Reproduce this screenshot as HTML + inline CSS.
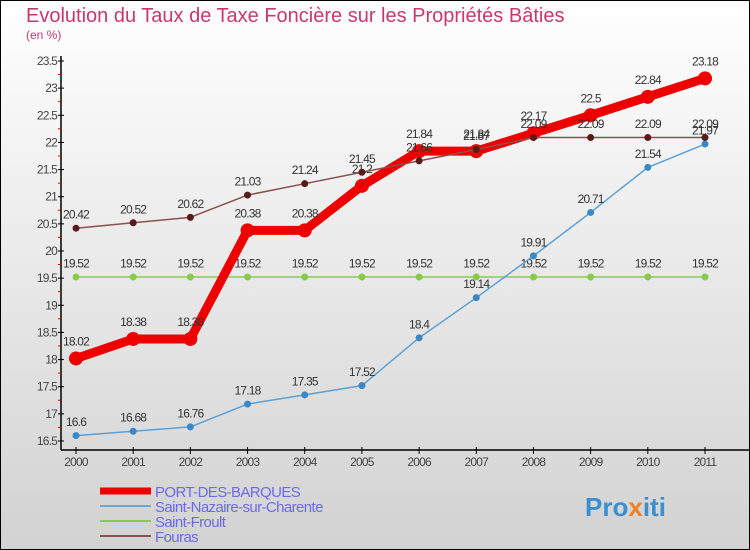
<!DOCTYPE html>
<html><head><meta charset="utf-8">
<style>
html,body{margin:0;padding:0;}
body{width:750px;height:550px;overflow:hidden;font-family:"Liberation Sans",sans-serif;}
svg{display:block;}
</style></head>
<body>
<svg id="chart" width="750" height="550" xmlns="http://www.w3.org/2000/svg">
<defs>
<linearGradient id="bg" x1="0" y1="0" x2="0" y2="1">
<stop offset="0" stop-color="#ffffff"/><stop offset="1" stop-color="#d2d2d2"/>
</linearGradient>
</defs>
<rect x="0.5" y="0.5" width="749" height="549" fill="url(#bg)" stroke="#000"/>
<text x="26" y="22" font-size="20" fill="#c8386e">Evolution du Taux de Taxe Foncière sur les Propriétés Bâties</text>
<text x="26" y="39" font-size="12" fill="#c8386e">(en %)</text>
<g id="axes"></g>
<g id="series"></g>
<g id="legend"></g>
<text x="585" y="516" font-size="26" font-weight="bold" fill="#3a8fd0">Pro<tspan fill="#f08020">x</tspan>iti</text>
</svg>
<script>
const years=["2000","2001","2002","2003","2004","2005","2006","2007","2008","2009","2010","2011"];
const yTicks=[16.5,17,17.5,18,18.5,19,19.5,20,20.5,21,21.5,22,22.5,23,23.5];
const portDesBarques=[18.02,18.38,18.38,20.38,20.38,21.2,21.84,21.84,22.17,22.5,22.84,23.18];
const saintNazaire=[16.6,16.68,16.76,17.18,17.35,17.52,18.4,19.14,19.91,20.71,21.54,21.97];
const saintFroult=[19.52,19.52,19.52,19.52,19.52,19.52,19.52,19.52,19.52,19.52,19.52,19.52];
const fouras=[20.42,20.52,20.62,21.03,21.24,21.45,21.66,21.87,22.09,22.09,22.09,22.09];
const seriesNames=["PORT-DES-BARQUES","Saint-Nazaire-sur-Charente","Saint-Froult","Fouras"];

const NS="http://www.w3.org/2000/svg";
const x0=76,x1=705,yMin=16.5,yMax=23.5,py0=441,py1=61;
const xS=i=>x0+(x1-x0)*i/(years.length-1);
const yS=v=>py0-(v-yMin)*(py0-py1)/(yMax-yMin);
function mk(tag,attrs,parent){const e=document.createElementNS(NS,tag);for(const k in attrs)e.setAttribute(k,attrs[k]);parent.appendChild(e);return e;}
const axes=document.getElementById('axes');
let a=mk('line',{x1:61,y1:56,x2:61,y2:450,stroke:'#000','stroke-width':1.5},axes);


a=mk('line',{x1:61,y1:450,x2:750,y2:450,stroke:'#000','stroke-width':1.5},axes);


yTicks.forEach((v,i)=>{
  const y=yS(v);
  mk('line',{x1:58,y1:y,x2:64,y2:y,stroke:'#000'},axes);
  if(i<yTicks.length-1){mk('line',{x1:58,y1:y-13.6,x2:61,y2:y-13.6,stroke:'#e00'},axes);}
  const t=mk('text',{x:57,y:y+4,'font-size':12,'text-anchor':'end',fill:'#444','letter-spacing':'-0.8'},axes);
  t.textContent=String(v);
  
  
});
years.forEach((yr,i)=>{
  const x=xS(i);
  mk('line',{x1:x,y1:447,x2:x,y2:454,stroke:'#000'},axes);
  const t=mk('text',{x:x,y:466,'font-size':12,'text-anchor':'middle',fill:'#444','letter-spacing':'-0.8'},axes);
  t.textContent=yr;
  
  
});
const cfg=[
 {data:saintFroult,line:'#88cc55',w:1.5,dot:'#88cc44',r:3.5,name:'series-saint-froult'},
 {data:saintNazaire,line:'#5aa0d8',w:1.5,dot:'#3a88c8',r:3.5,name:'series-saint-nazaire'},
 {data:portDesBarques,line:'#ee0000',w:9,dot:'#ee0000',r:7,name:'series-port-des-barques'},
 {data:fouras,line:'#8b5050',w:1.5,dot:'#5a1a1a',r:3.5,name:'series-fouras'}
];
const sg=document.getElementById('series');
cfg.forEach(c=>{
  const g=mk('g',{},sg);
  
  
  const pts=c.data.map((v,i)=>xS(i)+','+yS(v)).join(' ');
  mk('polyline',{points:pts,fill:'none',stroke:c.line,'stroke-width':c.w,'stroke-linejoin':'round'},g);
  c.data.forEach((v,i)=>{
    const d=mk('circle',{cx:xS(i),cy:yS(v),r:c.r,fill:c.dot},g);
    
    
    const t=mk('text',{x:xS(i),y:yS(v)-(c.r+6),'font-size':12,'text-anchor':'middle',fill:'#333','letter-spacing':'-0.8'},g);
    t.textContent=String(v);
    
    
  });
});
const lg=document.getElementById('legend');
const lcols=['#ee0000','#6aa8d8','#88cc55','#8b5050'],lw=[7,2,2,2];
seriesNames.forEach((n,i)=>{
  const y=491+i*15;
  const l=mk('line',{x1:100,y1:y,x2:151,y2:y,stroke:lcols[i],'stroke-width':lw[i]},lg);
  
  
  const t=mk('text',{x:155,y:y+6,'font-size':15,fill:'#6a6aee','letter-spacing':'-0.6'},lg);
  t.textContent=n;
  
  
});
</script>
</body></html>
